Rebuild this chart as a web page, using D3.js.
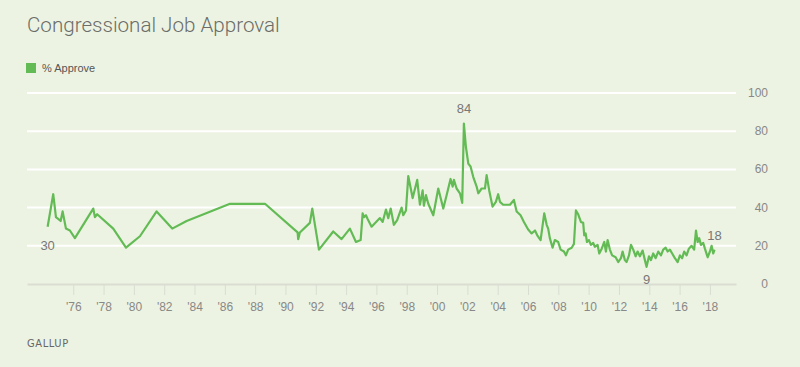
<!DOCTYPE html>
<html>
<head>
<meta charset="utf-8">
<script src="https://cdn.jsdelivr.net/npm/d3@7"></script>
<style>
  html, body { margin: 0; padding: 0; background: #edf3e2; }
  svg { display: block; }
</style>
</head>
<body>
<svg id="chart" width="800" height="367"></svg>
<script>
// Gallup congressional approval (decimal year, % approve)
const years = [
  1974.31, 1974.68, 1974.86, 1975.17, 1975.30, 1975.52, 1975.78, 1976.11, 1977.32, 1977.43,
  1977.58, 1978.64, 1979.48, 1980.40, 1981.50, 1982.53, 1983.48, 1986.34, 1988.65, 1990.80,
  1990.84, 1990.95, 1991.61, 1991.77, 1992.21, 1993.15, 1993.70, 1994.25, 1994.65, 1994.96,
  1995.09, 1995.18, 1995.31, 1995.42, 1995.68, 1996.23, 1996.41, 1996.63, 1996.78, 1996.94,
  1997.15, 1997.37, 1997.66, 1997.77, 1997.95, 1998.10, 1998.39, 1998.69, 1998.87, 1999.05,
  1999.13, 1999.27, 1999.42, 1999.75, 2000.08, 2000.41, 2000.63, 2000.89, 2001.03, 2001.11,
  2001.29, 2001.51, 2001.66, 2001.77, 2001.90, 2002.06, 2002.21, 2002.39, 2002.61, 2002.72,
  2002.94, 2003.16, 2003.27, 2003.44, 2003.66, 2003.88, 2004.03, 2004.15, 2004.36, 2004.81,
  2005.07, 2005.25, 2005.51, 2005.73, 2006.01, 2006.24, 2006.46, 2006.61, 2006.83, 2007.07,
  2007.23, 2007.33, 2007.44, 2007.62, 2007.77, 2007.99, 2008.15, 2008.37, 2008.50, 2008.65,
  2008.88, 2009.03, 2009.16, 2009.31, 2009.49, 2009.64, 2009.71, 2009.80, 2009.89, 2010.02,
  2010.15, 2010.30, 2010.41, 2010.59, 2010.70, 2010.86, 2011.03, 2011.14, 2011.25, 2011.40,
  2011.55, 2011.78, 2011.95, 2012.13, 2012.24, 2012.39, 2012.50, 2012.66, 2012.79, 2012.94,
  2013.10, 2013.23, 2013.38, 2013.56, 2013.71, 2013.82, 2013.98, 2014.11, 2014.26, 2014.42,
  2014.59, 2014.77, 2014.92, 2015.08, 2015.21, 2015.36, 2015.51, 2015.69, 2015.87, 2016.02,
  2016.17, 2016.30, 2016.46, 2016.61, 2016.79, 2016.96, 2017.08, 2017.19, 2017.29, 2017.41,
  2017.56, 2017.67, 2017.85, 2018.00, 2018.11, 2018.22, 2018.30
];
const approve = [
  30, 47, 35, 33, 38, 29, 28, 24, 39.5, 35,
  36.5, 29, 19, 25, 38, 29, 33, 42, 42, 27,
  23.5, 27, 32, 39.5, 18, 27.5, 23.5, 29, 22, 23,
  37, 35, 36, 34, 30, 34.5, 32.5, 39, 34.5, 39.5,
  31, 33.5, 40, 36, 38.5, 56.5, 45, 54.5, 41.5, 49,
  41, 46.5, 42, 36, 50, 39.5, 46.5, 55, 51, 54.5,
  50, 47.5, 42.5, 84, 72, 63, 61.5, 56, 51, 47.5,
  50, 50, 57, 49, 40.5, 43, 47, 43, 41.5, 41.5,
  44, 38, 36, 32.5, 28.5, 26.5, 28, 25.5, 23, 37,
  31, 29, 24, 19, 23, 22, 18, 17, 15, 18,
  19, 21, 38.5, 36.5, 32.5, 32, 25.5, 26.5, 22, 23,
  20.5, 21.5, 19.5, 20.5, 16, 18.5, 22, 17, 23, 18,
  15, 14, 11.5, 13.5, 17, 12.5, 11.5, 15, 20.5, 18,
  14.5, 17, 14.5, 17.5, 12.5, 9, 14.5, 12.5, 16, 13.5,
  17, 15, 18, 19, 17, 18, 16, 13.5, 11.5, 15,
  13.5, 17, 15, 18.5, 20, 18, 28, 22, 24, 20.5,
  21.5, 18.5, 14, 17, 20, 16, 18
];
const xTicks = d3.range(1976, 2019, 2);
const yTicks = [0, 20, 40, 60, 80, 100];
// labelled points: index into the series and where the number sits
const callouts = [
  { i: 0, text: "30", dy: 19 },
  { i: 63, text: "84", dy: -15 },
  { i: 135, text: "9", dy: 13 },
  { i: 166, text: "18", dy: -14 }
];

const green = "#63bb55";
const svg = d3.select("#chart");
const plotLeft = 27, plotRight = 736, plotTop = 93, plotBottom = 284;

const x = d3.scaleLinear([1972.95, 2019.72], [plotLeft, plotRight]);
const y = d3.scaleLinear([0, 100], [plotBottom, plotTop]);

// title + legend
svg.append("text")
  .attr("x", 27).attr("y", 32)
  .attr("font-family", "Roboto, 'Liberation Sans', sans-serif")
  .attr("font-weight", 300)
  .attr("font-size", 20.6)
  .attr("fill", "#6a6d69")
  .text("Congressional Job Approval");

svg.append("rect")
  .attr("x", 26).attr("y", 63).attr("width", 10).attr("height", 10)
  .attr("fill", green);
svg.append("text")
  .attr("x", 42).attr("y", 72)
  .attr("font-family", "'Liberation Sans', Arial, sans-serif")
  .attr("font-size", 11)
  .attr("fill", "#555")
  .text("% Approve");

// gridlines
svg.append("g")
  .selectAll("line")
  .data(yTicks.filter(d => d > 0))
  .join("line")
  .attr("x1", plotLeft).attr("x2", plotRight)
  .attr("y1", d => y(d)).attr("y2", d => y(d))
  .attr("stroke", "#ffffff")
  .attr("stroke-width", 2);

// y labels on the right
svg.append("g")
  .selectAll("text")
  .data(yTicks)
  .join("text")
  .attr("x", 768)
  .attr("y", d => y(d) + 4)
  .attr("text-anchor", "end")
  .attr("font-family", "'Liberation Sans', Arial, sans-serif")
  .attr("font-size", 12)
  .attr("fill", "#888")
  .text(d => d);

// x axis
let xAxis = d3.axisBottom(x)
  .tickValues(xTicks)
  .tickSize(11)
  .tickSizeOuter(0)
  .tickPadding(7)
  .tickFormat(d => "'" + String(d).slice(2));

let gx = svg.append("g")
  .attr("transform", `translate(0,${plotBottom})`)
  .call(xAxis);
gx.select(".domain").attr("stroke", "#d9ddd2").attr("stroke-width", 2);
gx.selectAll(".tick line").attr("stroke", "#d9ddd2").attr("stroke-width", 1);
gx.selectAll(".tick text")
  .attr("fill", "#888")
  .attr("font-family", "'Liberation Sans', Arial, sans-serif")
  .attr("font-size", 12);

// the series
const pts = years.map((d, i) => [d, approve[i]]);
svg.append("path")
  .datum(pts)
  .attr("fill", "none")
  .attr("stroke", green)
  .attr("stroke-width", 2.2)
  .attr("stroke-linejoin", "round")
  .attr("d", d3.line().x(d => x(d[0])).y(d => y(d[1])));

svg.append("g")
  .selectAll("text")
  .data(callouts)
  .join("text")
  .attr("x", d => x(years[d.i]))
  .attr("y", d => y(approve[d.i]) + d.dy + 4)
  .attr("text-anchor", "middle")
  .attr("font-family", "'Liberation Sans', Arial, sans-serif")
  .attr("font-size", 13)
  .attr("fill", "#777")
  .text(d => d.text);

// source
svg.append("text")
  .attr("x", 27).attr("y", 347)
  .attr("font-family", "'DejaVu Sans Condensed', 'Liberation Sans Narrow', sans-serif")
  .attr("font-size", 11)
  .attr("letter-spacing", 0.6)
  .attr("fill", "#666")
  .text("GALLUP");
</script>
</body>
</html>
